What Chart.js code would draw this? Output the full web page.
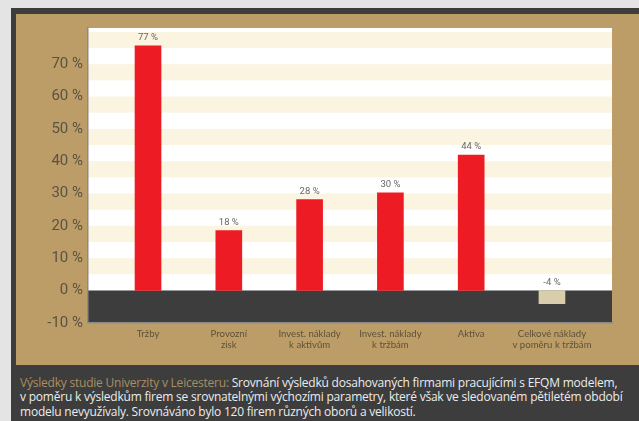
<!DOCTYPE html>
<html>
<head>
<meta charset="utf-8">
<script src="https://cdn.jsdelivr.net/npm/chart.js@4.4.0/dist/chart.umd.min.js"></script>
<style>
  html, body { margin: 0; padding: 0; }
  body { width: 639px; height: 421px; background: #e4e4e4; position: relative; overflow: hidden; }
  #dark { position: absolute; left: 11px; top: 8px; width: 628px; height: 413px; background: #3d3d3d; }
  #tan { position: absolute; left: 16px; top: 14px; width: 623px; height: 351px; background: #bc9d67; }
  #chart { position: absolute; left: 0; top: 0; }
  #caption { position: absolute; left: 20px; top: 376px; width: 615px; font-family: "Open Sans", sans-serif;
             font-size: 12px; letter-spacing: -0.22px; line-height: 14.3px; color: #ececec; white-space: nowrap; }
  #caption .hl { color: #a88f62; }
</style>
</head>
<body>
<div id="dark"></div>
<div id="tan"><canvas id="chart" width="623" height="351"></canvas></div>
<div id="caption"><span class="hl">Výsledky studie Univerzity v Leicesteru:</span> Srovnání výsledků dosahovaných firmami pracujícími s EFQM modelem,<br>v poměru k výsledkům firem se srovnatelnými výchozími parametry, které však ve sledovaném pětiletém období<br>modelu nevyužívaly. Srovnáváno bylo 120 firem různých oborů a velikostí.</div>
<script>
const categories = [
  ['Tržby'],
  ['Provozní', 'zisk'],
  ['Invest. náklady', 'k aktivům'],
  ['Invest. náklady', 'k tržbám'],
  ['Aktiva'],
  ['Celkové náklady', 'v poměru k tržbám']
];
const values = [75.7, 18.5, 28.1, 30.2, 41.9, -4.1];
const valueLabels = ['77 %', '18 %', '28 %', '30 %', '44 %', '-4 %'];
const yTicks = [-10, 0, 10, 20, 30, 40, 50, 60, 70];

const stripes = {
  id: 'stripes',
  beforeDraw(chart) {
    const { ctx, chartArea: a, scales: { y } } = chart;
    ctx.save();
    ctx.beginPath();
    ctx.rect(a.left, a.top, a.right - a.left, a.bottom - a.top);
    ctx.clip();
    ctx.fillStyle = '#ffffff';
    ctx.fillRect(a.left, a.top, a.right - a.left, a.bottom - a.top);
    ctx.fillStyle = '#faf4e1';
    for (let v = 5; v < y.max; v += 10) {
      const top = y.getPixelForValue(Math.min(v + 5, y.max));
      const bot = y.getPixelForValue(v);
      ctx.fillRect(a.left, top, a.right - a.left, bot - top);
    }
    ctx.fillStyle = '#3d3d3d';
    const z = y.getPixelForValue(0);
    ctx.fillRect(a.left, z, a.right - a.left, y.getPixelForValue(y.min) - z);
    ctx.restore();
  }
};

const barLabels = {
  id: 'barLabels',
  afterDatasetsDraw(chart) {
    const { ctx, scales: { y } } = chart;
    const meta = chart.getDatasetMeta(0);
    const z = y.getPixelForValue(0);
    ctx.save();
    ctx.font = '9.5px Roboto';
    ctx.fillStyle = '#666666';
    ctx.textAlign = 'center';
    ctx.textBaseline = 'middle';
    meta.data.forEach((bar, i) => {
      const top = Math.min(bar.y, z);
      ctx.fillText(valueLabels[i], bar.x, top - 8);
    });
    ctx.restore();
  }
};

new Chart(document.getElementById('chart'), {
  type: 'bar',
  data: {
    datasets: [{
      data: values.map((v, i) => ({ x: i, y: v })),
      backgroundColor: values.map(v => v < 0 ? '#d9ceac' : '#ed1c24'),
      borderWidth: 0,
      barThickness: 26
    }]
  },
  options: {
    responsive: false,
    devicePixelRatio: 1,
    animation: false,
    layout: { padding: { left: 0, right: 27, top: 10, bottom: 0 } },
    plugins: { legend: { display: false }, tooltip: { enabled: false } },
    scales: {
      x: {
        type: 'linear',
        offset: false,
        min: -0.743,
        max: 5.743,
        grid: { display: false, drawTicks: false, offset: false },
        border: { display: true, color: '#8a8a8a', width: 1.5 },
        afterBuildTicks(scale) { scale.ticks = categories.map((c, i) => ({ value: i })); },
        afterFit(scale) { scale.height = 42.2; },
        ticks: {
          autoSkip: false,
          maxRotation: 0,
          padding: 6,
          color: '#5e5138',
          font: { family: 'Lato', size: 9.6, lineHeight: 1.15 },
          callback: (v) => categories[v]
        }
      },
      y: {
        min: -10,
        max: 81.2,
        grid: { display: false, drawTicks: false },
        border: { display: true, color: '#8a8a8a', width: 1.5 },
        afterBuildTicks(scale) { scale.ticks = yTicks.map(v => ({ value: v })); },
        afterFit(scale) { scale.width = 72; },
        ticks: {
          padding: 5,
          color: '#5a5244',
          font: { family: 'Roboto', size: 15 },
          callback: (v) => v + ' %'
        }
      }
    }
  },
  plugins: [stripes, barLabels]
});
</script>
</body>
</html>
